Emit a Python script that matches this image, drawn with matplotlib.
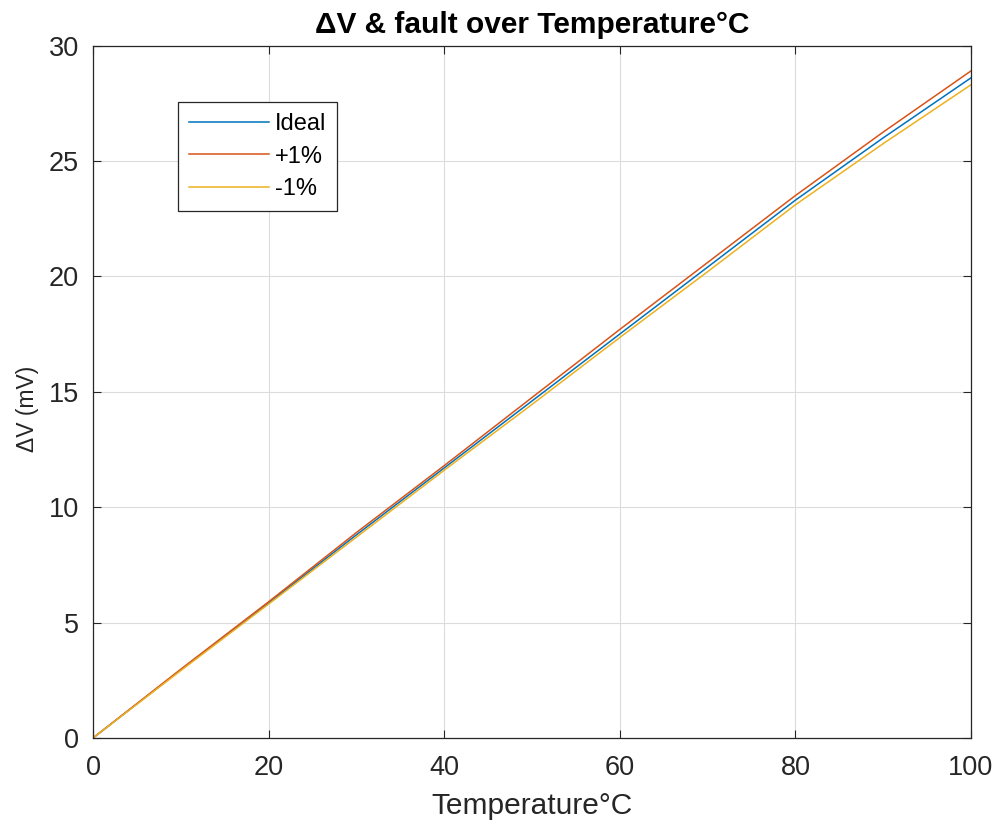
import numpy as np
import matplotlib.pyplot as plt

plt.rcParams['font.family'] = ['Liberation Sans', 'DejaVu Sans']

# temperature points (°C)
temp = [0, 10, 20, 30, 40, 50, 60, 70, 80, 90, 100]
# delta V (mV)
dv_ideal = [0, 2.95, 5.85, 8.8, 11.7, 14.6, 17.5, 20.4, 23.3, 26.0, 28.6]
dv_plus = [0, 2.98, 5.9, 8.9, 11.8, 14.75, 17.7, 20.6, 23.5, 26.25, 28.9]
dv_minus = [0, 2.92, 5.8, 8.7, 11.6, 14.45, 17.35, 20.2, 23.1, 25.75, 28.3]
labels = ['Ideal', '+1%', '-1%']

colors = ['#0072BD', '#D95319', '#EDB120']
txt = '#262626'

fig = plt.figure(figsize=(9.97, 8.25), dpi=100)
ax = fig.add_axes([0.0933, 0.1055, 0.8806, 0.8393])

for y, c, lab in zip([dv_ideal, dv_plus, dv_minus], colors, labels):
    ax.plot(temp, y, color=c, lw=1.1, label=lab)

ax.set_xlim(0, 100)
ax.set_ylim(0, 30)
ax.set_xticks(np.arange(0, 101, 20))
ax.set_yticks(np.arange(0, 31, 5))
ax.grid(True, color='#dcdcdc', lw=0.8)
ax.set_axisbelow(True)
ax.tick_params(direction='in', top=True, right=True, labelsize=19.5,
               colors=txt, length=6)
ax.tick_params(axis='x', pad=12)
ax.tick_params(axis='y', pad=10)
for s in ax.spines.values():
    s.set_color(txt)
    s.set_linewidth(0.9)

ax.set_xlabel('Temperature°C', fontsize=21.5, color=txt, labelpad=8)
ax.set_ylabel('ΔV (mV)', fontsize=16.5, color=txt)
ax.yaxis.set_label_coords(-0.061, 0.475)
ax.set_title('ΔV & fault over Temperature°C', fontsize=21.5, fontweight='bold',
             color='black', pad=9)

leg = ax.legend(loc='upper left', bbox_to_anchor=(0.0968, 0.918), fontsize=17,
                fancybox=False, framealpha=1, edgecolor=txt, handlelength=3.4,
                handletextpad=0.25, borderpad=0.45, labelspacing=0.45,
                borderaxespad=0)
leg.get_frame().set_linewidth(0.9)

fig.savefig('out.png', dpi=100)
